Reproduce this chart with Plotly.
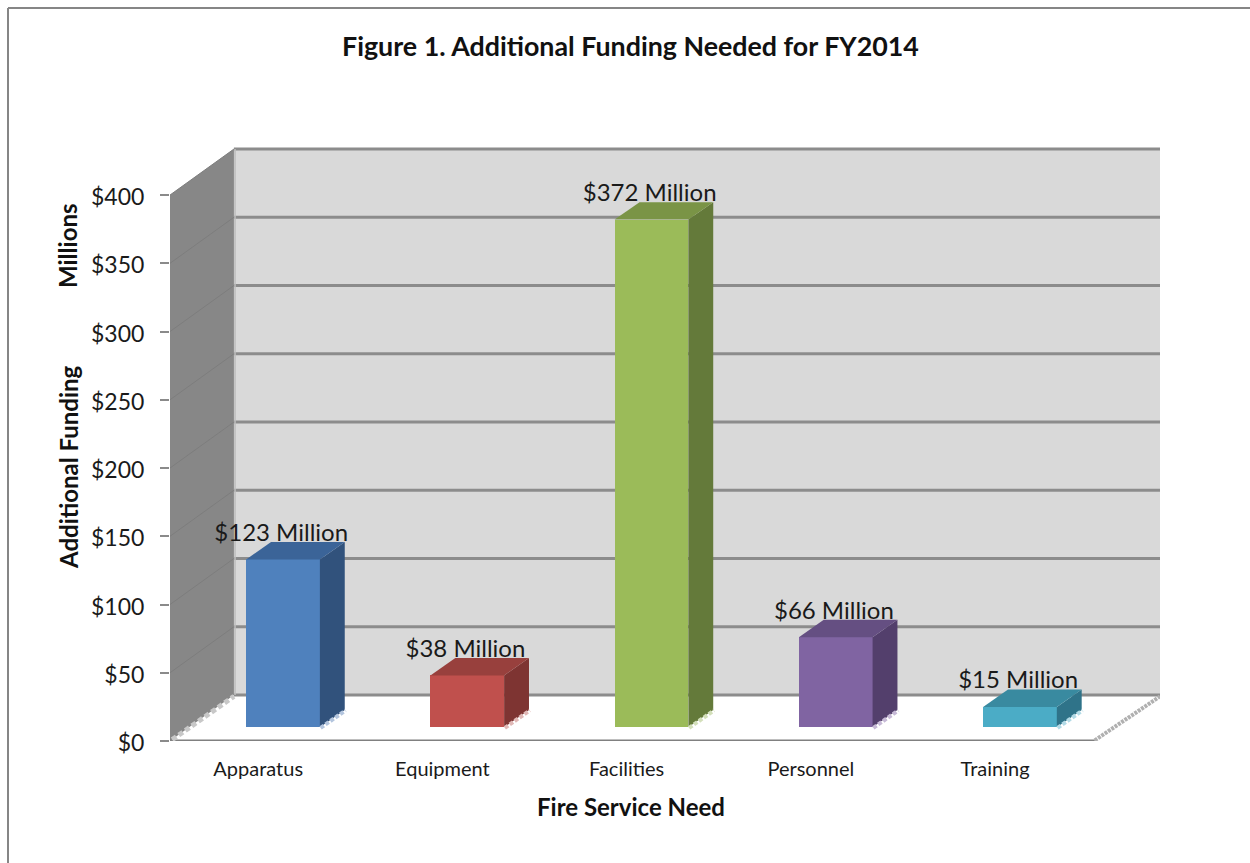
import plotly.graph_objects as go

# Data
categories = ["Apparatus", "Equipment", "Facilities", "Personnel", "Training"]
values = [123, 38, 372, 66, 15]
labels = ["$123 Million", "$38 Million", "$372 Million", "$66 Million", "$15 Million"]
front_colors = ["#4f81bd", "#c0504d", "#9bbb59", "#8064a2", "#4bacc6"]
side_colors = ["#31527c", "#7e3432", "#647a3a", "#533f6c", "#2f7389"]
top_colors = ["#3b6498", "#98403d", "#7a9446", "#654f82", "#398aa0"]
foot_colors = ["#b3c5de", "#e0b8b6", "#d3dfba", "#c6b9d6", "#b2dae6"]
y_ticks = [0, 50, 100, 150, 200, 250, 300, 350, 400]
y_tick_text = ["$0", "$50", "$100", "$150", "$200", "$250", "$300", "$350", "$400"]

W, H = 1250, 863
FONT = "Lato"
TEXT = "#1a1a1a"

# Projection constants of the fake 3D box (in axis units)
X_MIN, X_MAX = -0.6135, 4.76
Y_MAX = 435.2
WALL_DX, WALL_DY = 0.347, 33.7
FLOOR_RIGHT = 4.406
BAR_W = 0.40
BAR_BASE = 10.0
BAR_DX, BAR_DY = 0.135, 12.8
TICK_SHIFT = 0.135

fig = go.Figure()

# Front faces
fig.add_trace(go.Bar(
    x=list(range(len(values))), y=values, base=BAR_BASE, width=BAR_W,
    marker=dict(color=front_colors, line=dict(width=0)), hoverinfo="skip", showlegend=False,
))

# Side and top faces, derived from the values
for i, v in enumerate(values):
    xl, xr = i - BAR_W / 2, i + BAR_W / 2
    top = BAR_BASE + v
    fig.add_trace(go.Scatter(
        x=[xr, xr + BAR_DX, xr + BAR_DX, xr, xr],
        y=[BAR_BASE, BAR_BASE + BAR_DY, top + BAR_DY, top, BAR_BASE],
        fill="toself", fillcolor=side_colors[i], mode="lines", line=dict(width=0),
        hoverinfo="skip", showlegend=False))
    fig.add_trace(go.Scatter(
        x=[xl, xr, xr + BAR_DX, xl + BAR_DX, xl],
        y=[top, top, top + BAR_DY, top + BAR_DY, top],
        fill="toself", fillcolor=top_colors[i], mode="lines", line=dict(width=0),
        hoverinfo="skip", showlegend=False))
    fig.add_trace(go.Scatter(
        x=[xr + 0.004, xr + BAR_DX + 0.004], y=[BAR_BASE - 0.4, BAR_BASE + BAR_DY - 0.4],
        mode="lines", line=dict(width=4, color=foot_colors[i], dash="4px,2px"),
        hoverinfo="skip", showlegend=False))

# Data labels
fig.add_trace(go.Scatter(
    x=[i - 0.01 for i in range(len(values))],
    y=[v + BAR_BASE + BAR_DY - 3.5 for v in values],
    mode="text", text=labels, textposition="top center",
    textfont=dict(family=FONT, size=24, color=TEXT),
    hoverinfo="skip", showlegend=False))

# Wall shapes
shapes = []
back_x = X_MIN + WALL_DX
shapes.append(dict(type="rect", layer="below", xref="x", yref="y",
                   x0=back_x, x1=X_MAX, y0=WALL_DY, y1=400 + WALL_DY,
                   fillcolor="#d9d9d9", line=dict(width=0)))
shapes.append(dict(type="path", layer="below", xref="x", yref="y",
                   path=f"M {X_MIN} 0 L {X_MIN} 400 L {back_x} {400 + WALL_DY} L {back_x} {WALL_DY} Z",
                   fillcolor="#878787", line=dict(width=0)))
for t in y_ticks:
    if t > 0:
        shapes.append(dict(type="line", layer="below", xref="x", yref="y",
                           x0=X_MIN, x1=back_x, y0=t, y1=t + WALL_DY,
                           line=dict(color="#7d7d7d", width=1)))
    shapes.append(dict(type="line", layer="below", xref="x", yref="y",
                       x0=back_x, x1=X_MAX, y0=t + WALL_DY, y1=t + WALL_DY,
                       line=dict(color="#8c8c8c", width=3)))
shapes.append(dict(type="line", layer="below", xref="x", yref="y",
                   x0=back_x + 0.006, x1=back_x + 0.006, y0=WALL_DY, y1=400 + WALL_DY,
                   line=dict(color="#bdbdbd", width=1.5)))
# Floor edges
shapes.append(dict(type="line", layer="below", xref="x", yref="y",
                   x0=X_MIN, x1=FLOOR_RIGHT, y0=0, y1=0, line=dict(color="#808080", width=3)))
shapes.append(dict(type="line", layer="below", xref="x", yref="y",
                   x0=X_MIN + 0.012, x1=back_x, y0=1.0, y1=WALL_DY - 1,
                   line=dict(color="#c8c8c8", width=5, dash="5px,3px")))
shapes.append(dict(type="line", layer="below", xref="x", yref="y",
                   x0=FLOOR_RIGHT, x1=X_MAX, y0=0.5, y1=WALL_DY - 1,
                   line=dict(color="#b0b0b0", width=4, dash="3px,1px")))
# Figure border (top and left only, the rest is cropped)
shapes.append(dict(type="line", layer="below", xref="paper", yref="paper",
                   x0=8 / W, x1=1, y0=1 - 8 / H, y1=1 - 8 / H, line=dict(color="#868686", width=2)))
shapes.append(dict(type="line", layer="below", xref="paper", yref="paper",
                   x0=8 / W, x1=8 / W, y0=0, y1=1 - 8 / H, line=dict(color="#868686", width=2)))

annotations = [
    dict(text="<b>Figure 1. Additional Funding Needed for FY2014</b>", x=630 / W, y=1 - 46 / H,
         font=dict(size=26.8, family=FONT, color="#111111")),
    dict(text="<b>Additional Funding</b>", x=68 / W, y=1 - 467 / H, textangle=-90,
         font=dict(size=24, family=FONT, color="#111111")),
    dict(text="<b>Millions</b>", x=68 / W, y=1 - 246 / H, textangle=-90,
         font=dict(size=24, family=FONT, color="#111111")),
    dict(text="<b>Fire Service Need</b>", x=631 / W, y=1 - 806 / H,
         font=dict(size=24, family=FONT, color="#111111")),
]
for a in annotations:
    a.update(xref="paper", yref="paper", xanchor="center", yanchor="middle", showarrow=False)

fig.update_layout(
    width=W, height=H, autosize=False,
    margin=dict(l=0, r=0, t=0, b=0, pad=0),
    paper_bgcolor="white", plot_bgcolor="white",
    showlegend=False, bargap=0, shapes=shapes, annotations=annotations,
    font=dict(family=FONT, color=TEXT),
    xaxis=dict(domain=[170 / W, 1160 / W], range=[X_MIN, X_MAX], showgrid=False, zeroline=False,
               automargin=False, showline=False, ticks="", tickmode="array",
               tickvals=[i - TICK_SHIFT for i in range(len(categories))], ticktext=categories,
               tickfont=dict(family=FONT, size=20, color=TEXT), ticklabelstandoff=14),
    yaxis=dict(domain=[122 / H, 1 - 147 / H], range=[0, Y_MAX], showgrid=False, zeroline=False,
               automargin=False, showline=False, ticks="outside", ticklen=9, tickwidth=2,
               tickcolor="#8a8a8a", tickmode="array", tickvals=y_ticks, ticktext=y_tick_text,
               ticklabelstandoff=11, ticklabelshift=2,
               tickfont=dict(family=FONT, size=23, color=TEXT)),
)

fig.write_html("out.html", config=dict(displayModeBar=False, responsive=False),
               default_width=f"{W}px", default_height=f"{H}px",
               post_script="document.body.style.margin='0';document.body.style.overflow='hidden';")
